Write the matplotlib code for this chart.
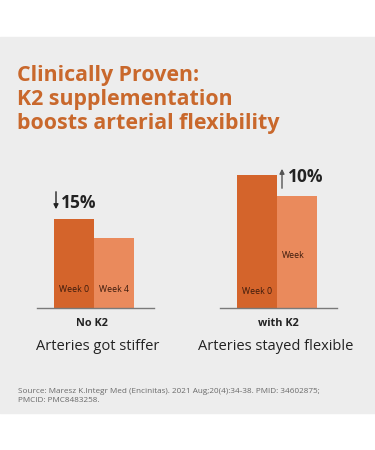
import matplotlib
matplotlib.use("Agg")
from matplotlib import pyplot as plt
from matplotlib.patches import Rectangle

# data
groups = ["No K2", "with K2"]
captions = ["Arteries got stiffer", "Arteries stayed flexible"]
week0 = [89, 133]
week4 = [70, 112]
bar_labels = [("Week 0", "Week 4"), ("Week 0", "Week")]
changes = ["15%", "10%"]
title = "Clinically Proven:\nK2 supplementation\nboosts arterial flexibility"
source = ("Source: Maresz K.Integr Med (Encinitas). 2021 Aug;20(4):34-38. PMID: 34602875;\n"
          "PMCID: PMC8483258.")

dark = "#D4642B"
light = "#EA8A5C"
title_col = "#C9682C"
bg = "#EDEDED"
font = "Open Sans"

W, H = 375, 450
fig = plt.figure(figsize=(W / 100, H / 100), dpi=100)
fig.patch.set_facecolor("white")

# gray panel behind everything
fig.patches.append(Rectangle((0, 1 - 413 / H), 1, (413 - 37) / H,
                             transform=fig.transFigure, color=bg, zorder=-10))

# bar axes: baseline at y=308px, x in pixels
base = 308
top = 150
ax = fig.add_axes([0, 1 - base / H, 1, (base - top) / H])
ax.set_xlim(0, W)
ax.set_ylim(0, base - top)
ax.set_axis_off()
ax.patch.set_alpha(0)

centers = [94, 277]
bw = 40
for i, c in enumerate(centers):
    ax.bar(c - bw / 2, week0[i], width=bw, color=dark, zorder=2)
    ax.bar(c + bw / 2, week4[i], width=bw, color=light, zorder=2)
    ax.plot([c - 57, c + 60], [0, 0], color="#7a7a7a", lw=1.0, zorder=3, clip_on=False)

# overlay axes in pixel coords for text
ov = fig.add_axes([0, 0, 1, 1])
ov.set_xlim(0, W)
ov.set_ylim(H, 0)
ov.set_axis_off()
ov.patch.set_alpha(0)

ov.text(17, 65, title, fontsize=15.4, fontweight="bold", color=title_col,
        family=font, va="top", ha="left", linespacing=1.2)

txt_col = "#3b1a0c"
# week labels
wk = 6.3
ov.text(74, 289, bar_labels[0][0], fontsize=wk, color=txt_col, ha="center", va="center", family=font)
ov.text(114, 289, bar_labels[0][1], fontsize=wk, color=txt_col, ha="center", va="center", family=font)
ov.text(257, 292, bar_labels[1][0], fontsize=wk, color=txt_col, ha="center", va="center", family=font)
ov.text(293, 255, bar_labels[1][1], fontsize=wk, color=txt_col, ha="center", va="center", family=font)

# change annotations
ov.annotate("", xy=(56, 212), xytext=(56, 189),
            arrowprops=dict(arrowstyle="-|>", color="#222222", lw=1.0, mutation_scale=7))
ov.text(61, 203, changes[0], fontsize=12.5, fontweight="bold", color="#222222",
        ha="left", va="center", family=font)
ov.annotate("", xy=(282, 166), xytext=(282, 191),
            arrowprops=dict(arrowstyle="-|>", color="#555555", lw=1.0, mutation_scale=7))
ov.text(288, 177, changes[1], fontsize=12.5, fontweight="bold", color="#222222",
        ha="left", va="center", family=font)

for i, c in enumerate(centers):
    ov.text([92, 278][i], 324, groups[i], fontsize=7.8, fontweight="bold", color="#222222",
            ha="center", va="center", family=font)
    ov.text([98, 276][i], 347, captions[i], fontsize=10.5, color="#222222",
            ha="center", va="center", family=font)

ov.text(18, 396, source, fontsize=5.9, color="#6a6a6a", ha="left", va="center",
        family=font, linespacing=1.25)

fig.savefig("out.png", dpi=100)
plt.close(fig)
